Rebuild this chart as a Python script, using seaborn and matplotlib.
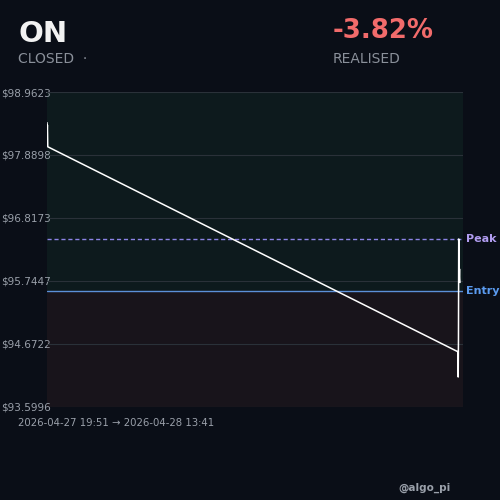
import pandas as pd
import numpy as np
import matplotlib
matplotlib.use("Agg")
import matplotlib.pyplot as plt
import matplotlib.transforms as mtransforms
import seaborn as sns

# trade data
times = [
    "2026-04-27 19:51:00", "2026-04-27 19:51:30", "2026-04-27 19:52:00",
    "2026-04-27 19:52:30", "2026-04-27 19:53:00",
    "2026-04-28 13:28:00", "2026-04-28 13:28:40", "2026-04-28 13:29:20",
    "2026-04-28 13:30:00", "2026-04-28 13:30:40", "2026-04-28 13:31:20",
    "2026-04-28 13:32:00", "2026-04-28 13:32:40", "2026-04-28 13:33:20",
]
prices = [98.44, 98.30, 98.40, 98.24, 98.03,
          94.54, 94.11, 94.75, 96.46, 96.05, 95.82, 95.95, 95.78, 95.72]
entry_price = 95.57
peak_price = 96.46
y_ticks = [93.5996, 94.6722, 95.7447, 96.8173, 97.8898, 98.9623]
start_time = "2026-04-27 19:51"
end_time = "2026-04-28 13:41"
symbol = "ON"
status = "CLOSED"
pnl_text = "-3.82%"

df = pd.DataFrame({"time": pd.to_datetime(times), "price": prices})

bg = "#0a0e17"
sns.set_theme(style="dark")
plt.rcParams["font.family"] = ["DejaVu Sans"]

fig = plt.figure(figsize=(5, 5), dpi=100, facecolor=bg)
ax = fig.add_axes([0.094, 0.186, 0.832, 0.630])
ax.set_facecolor(bg)

ymin, ymax = y_ticks[0], y_ticks[-1]
ax.axhspan(entry_price, ymax, color="#0d1a1d", zorder=0)
ax.axhspan(ymin, entry_price, color="#18141b", zorder=0)

for t in y_ticks:
    ax.axhline(t, color="#2a3139", lw=0.8, zorder=1)

ax.axhline(peak_price, color="#8c84e6", lw=1.0, ls=(0, (3, 2)), zorder=2)
ax.axhline(entry_price, color="#5b90d8", lw=1.0, zorder=2)

sns.lineplot(data=df, x="time", y="price", color="white", lw=1.1, ax=ax, zorder=3)

ax.set_xlim(pd.Timestamp(start_time), pd.Timestamp(end_time))
ax.set_ylim(ymin, ymax)
ax.set_xticks([])
ax.set_yticks(y_ticks)
ax.set_yticklabels([f"${v:.4f}" for v in y_ticks])
ax.tick_params(axis="y", length=0, pad=-3, labelsize=7.5, labelcolor="#9aa0aa")
ax.set_xlabel("")
ax.set_ylabel("")
for s in ax.spines.values():
    s.set_visible(False)

trans = mtransforms.blended_transform_factory(ax.transAxes, ax.transData)
ax.text(1.007, peak_price, "Peak", transform=trans, color="#b19cf0",
        fontsize=8, fontweight="bold", va="center", ha="left")
ax.text(1.007, entry_price, "Entry", transform=trans, color="#5b9bf0",
        fontsize=8, fontweight="bold", va="center", ha="left")

fig.text(0.036, 0.916, symbol, color="#f2f2f2", fontsize=21, fontweight="bold", va="baseline")
fig.text(0.036, 0.874, status + "  ·", color="#8a909a", fontsize=10, va="baseline")
fig.text(0.666, 0.924, pnl_text, color="#f26b6b", fontsize=18.7, fontweight="bold", va="baseline")
fig.text(0.666, 0.874, "REALISED", color="#8a909a", fontsize=10, va="baseline")
fig.text(0.036, 0.154, f"{start_time} → {end_time}", color="#9aa0aa", fontsize=7.3, va="center")
fig.text(0.796, 0.024, "@algo_pi", color="#9aa0aa", fontsize=7.5, fontweight="bold", va="center")

fig.savefig("out.png", dpi=100, facecolor=bg)
